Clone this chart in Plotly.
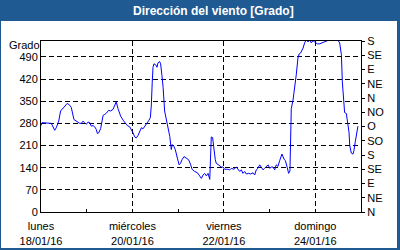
import pandas as pd
import plotly.graph_objects as go

start = "2016-01-18"
hours = [0, 0.5, 5.4, 7.2, 8.0, 9.3, 10.3, 11.6, 13.8, 15.1, 15.9, 17.3, 18.5, 20.3, 21.2, 22.1, 22.9, 23.8,
         24.7, 25.6, 26.4, 27.3, 28.2, 29.0, 29.6, 30.3, 31.3, 32.6, 33.4, 34.3, 35.5, 36.6, 37.8, 39.0, 39.5,
         40.4, 41.3, 41.8, 43.1, 44.3, 45.3, 46.6, 47.4, 48.3, 49.2, 50.0, 50.9, 51.8, 52.7, 53.6, 54.4, 55.8,
         56.7, 57.4, 57.9, 58.4, 58.8, 59.3, 60.2, 60.9, 61.4, 62.3, 62.8, 63.5, 64.1, 64.9, 65.8, 66.7, 67.6,
         68.4, 68.9, 69.8, 70.5, 71.6, 72.5, 73.3, 74.0, 75.1, 76.3, 77.5, 78.6, 79.3, 80.7, 82.1, 83.3, 84.2,
         85.1, 85.9, 86.8, 87.7, 88.6, 89.1, 89.4, 90.1, 90.8, 91.5, 92.0, 92.9, 93.8, 94.7, 95.6, 96.4, 97.8,
         99.1, 99.9, 101.3, 102.5, 103.4, 104.3, 105.2, 106.0, 106.9, 107.8, 109.0, 110.1, 111.3, 112.2, 113.0,
         113.9, 114.8, 115.7, 116.6, 117.4, 118.3, 119.2, 120.1, 120.9, 121.8, 122.7, 123.5, 124.4, 125.3,
         126.5, 127.6, 128.3, 129.3, 130.0, 130.7, 131.1, 131.4, 132.3, 133.2, 134.0, 134.9, 135.5, 136.3,
         137.0, 137.6, 138.4, 139.3, 140.2, 141.1, 141.9, 142.8, 143.7, 145.1, 146.3, 147.5, 148.9, 150.7,
         153.3, 155.9, 156.8, 157.7, 158.2, 158.9, 159.4, 160.3, 161.2, 161.7, 162.1, 162.9, 163.8, 164.3,
         165.0, 165.7, 166.4]
direction = [273, 282, 280, 258, 266, 287, 319, 327, 343, 337, 330, 292, 287, 280, 280, 287, 282, 277,
             284, 282, 271, 273, 269, 261, 248, 250, 263, 305, 308, 312, 321, 319, 324, 343, 348,
             327, 312, 303, 290, 280, 273, 269, 261, 250, 237, 234, 241, 252, 266, 263, 269, 280,
             290, 298, 335, 410, 457, 468, 465, 457, 471, 475, 468, 431, 394, 319, 292, 266, 239,
             197, 213, 207, 197, 170, 149, 154, 165, 175, 170, 165, 149, 135, 128, 124, 114, 106,
             117, 122, 114, 122, 103, 175, 237, 235, 197, 165, 154, 149, 146, 142, 142, 135, 135,
             133, 138, 135, 142, 135, 128, 133, 122, 128, 120, 122, 120, 124, 117, 133,
             138, 149, 142, 133, 138, 142, 149, 138, 142, 142, 133, 149, 144, 162,
             183, 167, 162, 140, 122, 130, 226, 327, 353, 390, 433, 486, 499, 502,
             509, 518, 534, 544, 537, 544, 534, 541, 537, 531, 531, 534, 539, 542,
             543, 542, 534, 497, 411, 348, 314, 311, 279, 252, 210, 186, 183, 194,
             222, 252, 271]

x_tick_dates = ["2016-01-18", "2016-01-20", "2016-01-22", "2016-01-24"]
x_tick_text = ["lunes<br>18/01/16", "miércoles<br>20/01/16", "viernes<br>22/01/16", "domingo<br>24/01/16"]
y_left_ticks = [0, 70, 140, 210, 280, 350, 420, 490]
y_right_ticks = [0, 45, 90, 135, 180, 225, 270, 315, 360, 405, 450, 495, 540]
y_right_text = ["N", "NE", "E", "SE", "S", "SO", "O", "NO", "N", "NE", "E", "SE", "S"]

times = pd.Timestamp(start) + pd.to_timedelta(hours, unit="h")

BLUE = "#1f5a92"
FONT = "Liberation Sans, Arial, sans-serif"

fig = go.Figure()
fig.add_trace(go.Scatter(x=times, y=direction, mode="lines",
                         line=dict(color="#0000ff", width=1), showlegend=False, hoverinfo="skip"))
fig.add_trace(go.Scatter(x=times[:1], y=[0], yaxis="y2", mode="lines",
                         line=dict(width=0), showlegend=False, hoverinfo="skip"))

L, R, T, B = 41, 39, 41, 38
W, H = 400, 250
pw, ph = W - L - R, H - T - B

def px_x(p):
    return (p - L) / pw

def px_y(p):
    return (H - B - p) / ph

fig.update_layout(
    width=W, height=H,
    margin=dict(l=L, r=R, t=T, b=B, autoexpand=False),
    paper_bgcolor=BLUE, plot_bgcolor="white",
    font=dict(family=FONT, size=11, color="black"),
    xaxis=dict(type="date", range=["2016-01-18", "2016-01-25"], automargin=False,
               tickmode="array", tickvals=x_tick_dates, ticktext=x_tick_text,
               ticks="inside", ticklen=3, tickcolor="black", ticklabelstandoff=4,
               showline=True, linecolor="black", linewidth=1, mirror=True,
               showgrid=True, gridcolor="black", gridwidth=1, griddash="5px,3px",
               minor=dict(dtick=86400000, tick0="2016-01-18", ticks="inside", ticklen=3,
                          tickcolor="black", showgrid=False),
               zeroline=False),
    yaxis=dict(range=[0, 540], tickmode="array", tickvals=y_left_ticks, automargin=False,
               ticks="", showline=True, linecolor="black", linewidth=1,
               showgrid=True, gridcolor="black", gridwidth=1, griddash="5px,3px",
               zeroline=False),
    yaxis2=dict(range=[0, 540], overlaying="y", side="right", tickmode="array", automargin=False,
                tickvals=y_right_ticks, ticktext=y_right_text,
                ticks="outside", ticklen=3, tickcolor="black",
                showline=True, linecolor="black", linewidth=1,
                showgrid=False, zeroline=False),
    shapes=[dict(type="rect", xref="paper", yref="paper", layer="below",
                 x0=px_x(1), x1=px_x(397), y0=px_y(248), y1=px_y(21),
                 fillcolor="white", line=dict(width=0))],
    annotations=[
        dict(text="<b>Dirección del viento [Grado]</b>", xref="paper", yref="paper",
             x=px_x(213), y=px_y(10.5), xanchor="center", yanchor="middle",
             showarrow=False, font=dict(family=FONT, size=12, color="white")),
        dict(text="Grado", xref="paper", yref="paper", x=px_x(7), y=px_y(45),
             xanchor="left", yanchor="middle", showarrow=False,
             font=dict(family=FONT, size=11, color="black")),
    ],
)

fig.write_html("out.html")
